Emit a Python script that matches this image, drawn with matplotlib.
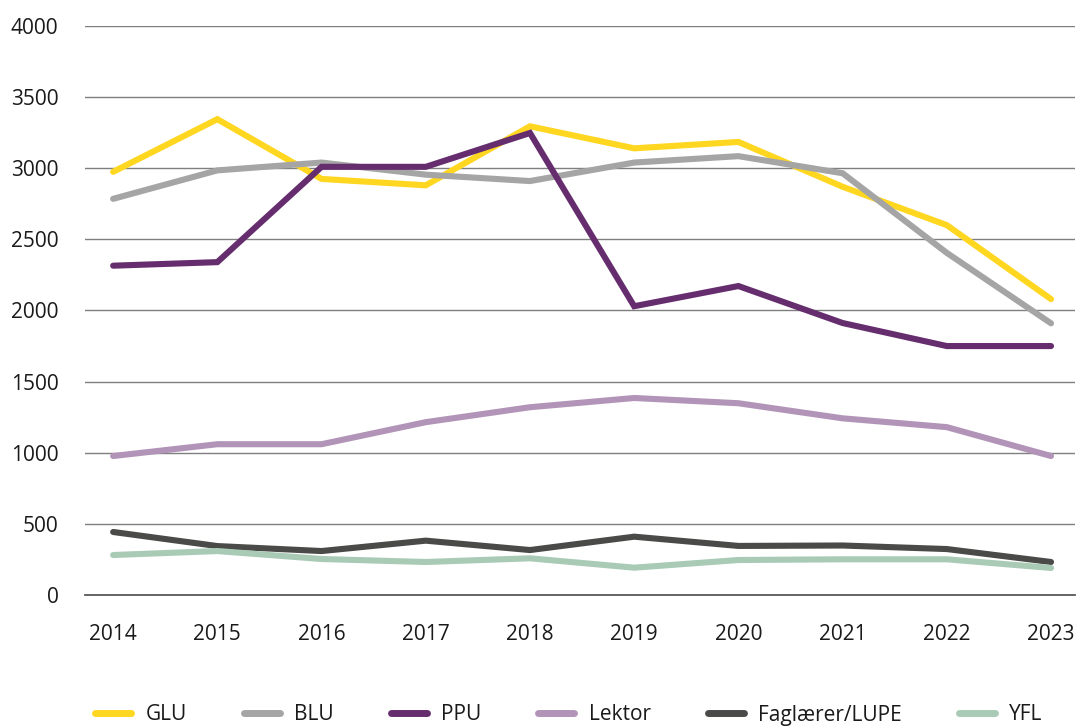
import matplotlib
matplotlib.use("Agg")
import matplotlib.pyplot as plt

plt.rcParams['font.family'] = ['Open Sans', 'DejaVu Sans']

years = [2014, 2015, 2016, 2017, 2018, 2019, 2020, 2021, 2022, 2023]
glu = [2975, 3345, 2925, 2880, 3295, 3140, 3185, 2870, 2600, 2080]
blu = [2785, 2985, 3040, 2955, 2910, 3040, 3085, 2965, 2405, 1910]
ppu = [2315, 2340, 3010, 3010, 3248, 2030, 2172, 1912, 1750, 1750]
lektor = [977, 1060, 1060, 1215, 1320, 1385, 1348, 1242, 1180, 977]
faglaerer = [443, 344, 309, 382, 316, 410, 345, 348, 323, 232]
yfl = [281, 309, 253, 232, 258, 192, 246, 251, 251, 190]

series = [
    ("GLU", glu, "#FFD620"),
    ("BLU", blu, "#A5A5A5"),
    ("PPU", ppu, "#662D6E"),
    ("Lektor", lektor, "#B294B8"),
    ("Faglærer/LUPE", faglaerer, "#4A4A48"),
    ("YFL", yfl, "#A9CBB5"),
]

W, H = 1077, 727
fig = plt.figure(figsize=(W / 100, H / 100), dpi=100)
ax = fig.add_axes([85 / W, 1 - 595 / H, (1075 - 85) / W, (595 - 26) / H])

for name, vals, col in series:
    ax.plot(years, vals, color=col, lw=4.4, solid_capstyle='round', solid_joinstyle='miter', label=name, zorder=3)

ax.set_ylim(0, 4000)
ax.set_yticks(range(0, 4001, 500))
ax.set_xlim(2014 - 0.27, 2023 + 0.23)
ax.set_xticks(years)
ax.set_xticklabels([str(y) for y in years])
ax.grid(axis='y', color='#7F7F7F', lw=1.0, zorder=0)
for s in ['top', 'right', 'left']:
    ax.spines[s].set_visible(False)
ax.spines['bottom'].set_color('#595959')
ax.spines['bottom'].set_linewidth(1.3)
ax.tick_params(axis='both', length=0, labelsize=15, colors='#1a1a1a')
ax.tick_params(axis='y', pad=19)
ax.tick_params(axis='x', pad=21)

leg = fig.legend(loc='center', bbox_to_anchor=(569 / W, 1 - 715 / H), ncol=6, frameon=False,
                 fontsize=15, handlelength=1.73, columnspacing=2.72, handletextpad=0.7)
for l in leg.get_lines():
    l.set_linewidth(5)
    l.set_solid_capstyle('round')
for t in leg.get_texts():
    t.set_color('#1a1a1a')

fig.savefig("out.png", dpi=100)
